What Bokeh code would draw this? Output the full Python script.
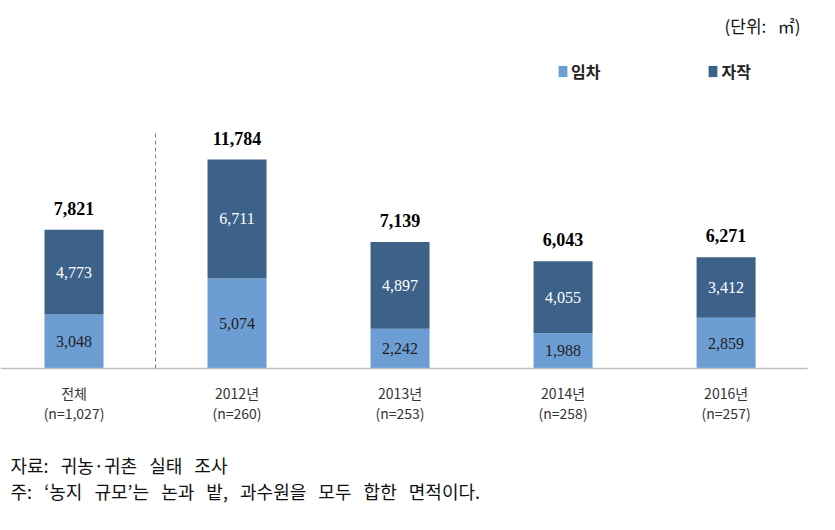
from bokeh.plotting import figure
from bokeh.models import ColumnDataSource, Legend, LegendItem, Label
from bokeh.core.properties import value
from bokeh.embed import file_html
from bokeh.resources import INLINE

cat_names = ["전체", "2012년", "2013년", "2014년", "2016년"]
cat_n = ["(n=1,027)", "(n=260)", "(n=253)", "(n=258)", "(n=257)"]
rent = [3048, 5074, 2242, 1988, 2859]      # 임차
own = [4773, 6711, 4897, 4055, 3412]       # 자작
total = [7821, 11784, 7139, 6043, 6271]
series_names = ["임차", "자작"]
unit_text = "(단위:  ㎡)"
note_source = "자료:  귀농·귀촌  실태  조사"
note_main = "주:  ‘농지  규모’는  논과  밭,  과수원을  모두  합한  면적이다."

SP = "\u00a0\u00a0\u00a0"


def widen(s):
    return " ".join(s.split()).replace(" ", SP)


xs = list(range(len(cat_names)))
rent_mid = [r / 2 for r in rent]
own_mid = [r + o / 2 for r, o in zip(rent, own)]
src = ColumnDataSource(dict(
    x=xs, rent=rent, own=own, total=total,
    rent_mid=rent_mid, own_mid=own_mid, zero=[0] * len(xs),
    rent_lbl=[f"{v:,}" for v in rent],
    own_lbl=[f"{v:,}" for v in own],
    tot_lbl=[f"{v:,}" for v in total],
    cname=cat_names, cn=cat_n,
))

W, H = 819, 514
p = figure(width=W, height=H, output_backend="svg", toolbar_location=None,
           x_range=(-0.4509, 4.573), y_range=(-8232, 20749),
           min_border_left=0, min_border_right=0, min_border_top=0, min_border_bottom=0)
p.outline_line_color = None
p.xgrid.visible = False
p.ygrid.visible = False
p.xaxis.visible = False
p.yaxis.visible = False
p.background_fill_color = "white"
p.border_fill_color = "white"

rs = p.vbar_stack(["rent", "own"], x="x", width=0.362, source=src,
                  color=["#6C9ED4", "#3C6289"], line_color=None)

# baseline (category axis)
p.segment(x0=[-0.4509], y0=[0], x1=[4.5], y1=[0], line_color="#BFBFBF", line_width=1.5)
# dashed separator
p.segment(x0=[0.5], y0=[0], x1=[0.5], y1=[13250], line_color="#7F7F7F",
          line_width=1, line_dash="4 3")

p.text(x="x", y="rent_mid", text="rent_lbl", source=src, text_align="center",
       text_baseline="middle", text_font=value("Liberation Serif"),
       text_font_size="16px", text_color="#1F1F1F")
p.text(x="x", y="own_mid", text="own_lbl", source=src, text_align="center",
       text_baseline="middle", text_font=value("Liberation Serif"),
       text_font_size="16px", text_color="white")
p.text(x="x", y="total", text="tot_lbl", source=src, text_align="center",
       text_baseline="bottom", y_offset=-15, text_font=value("Liberation Serif"),
       text_font_style="bold", text_font_size="18px", text_color="black")

# category labels
p.text(x="x", y="zero", text="cname", source=src, text_align="center",
       text_baseline="middle", y_offset=25, text_font=value("Noto Sans CJK KR"),
       text_font_size="14px", text_color="#333333")
p.text(x="x", y="zero", text="cn", source=src, text_align="center",
       text_baseline="middle", y_offset=45, text_font=value("Noto Sans CJK KR"),
       text_font_size="14px", text_color="#333333")

legend = Legend(items=[LegendItem(label=series_names[0], renderers=[rs[0]]),
                       LegendItem(label=series_names[1], renderers=[rs[1]])],
                orientation="horizontal", location=(557, 431))
legend.glyph_width = 11
legend.glyph_height = 14
legend.label_standoff = 3
legend.spacing = 107
legend.padding = 0
legend.margin = 0
legend.border_line_alpha = 0
legend.background_fill_alpha = 0
legend.label_text_font = "Noto Sans CJK KR"
legend.label_text_font_size = "16px"
legend.label_text_font_style = "bold"
legend.label_text_color = "#222222"
p.add_layout(legend, "center")

p.add_layout(Label(x=800, y=H - 25, x_units="screen", y_units="screen",
                   text=unit_text.replace("  ", "\u00a0\u00a0\u00a0"),
                   text_align="right", text_baseline="middle",
                   text_font="Noto Sans CJK KR", text_font_size="17px", text_color="#111111"))
p.add_layout(Label(x=10, y=H - 464, x_units="screen", y_units="screen", text=widen(note_source),
                   text_align="left", text_baseline="middle",
                   text_font="Noto Sans CJK KR", text_font_size="18px", text_color="#111111"))
p.add_layout(Label(x=10, y=H - 490, x_units="screen", y_units="screen", text=widen(note_main),
                   text_align="left", text_baseline="middle",
                   text_font="Noto Sans CJK KR", text_font_size="18px", text_color="#111111"))

open("out.html", "w").write(file_html(p, INLINE))
